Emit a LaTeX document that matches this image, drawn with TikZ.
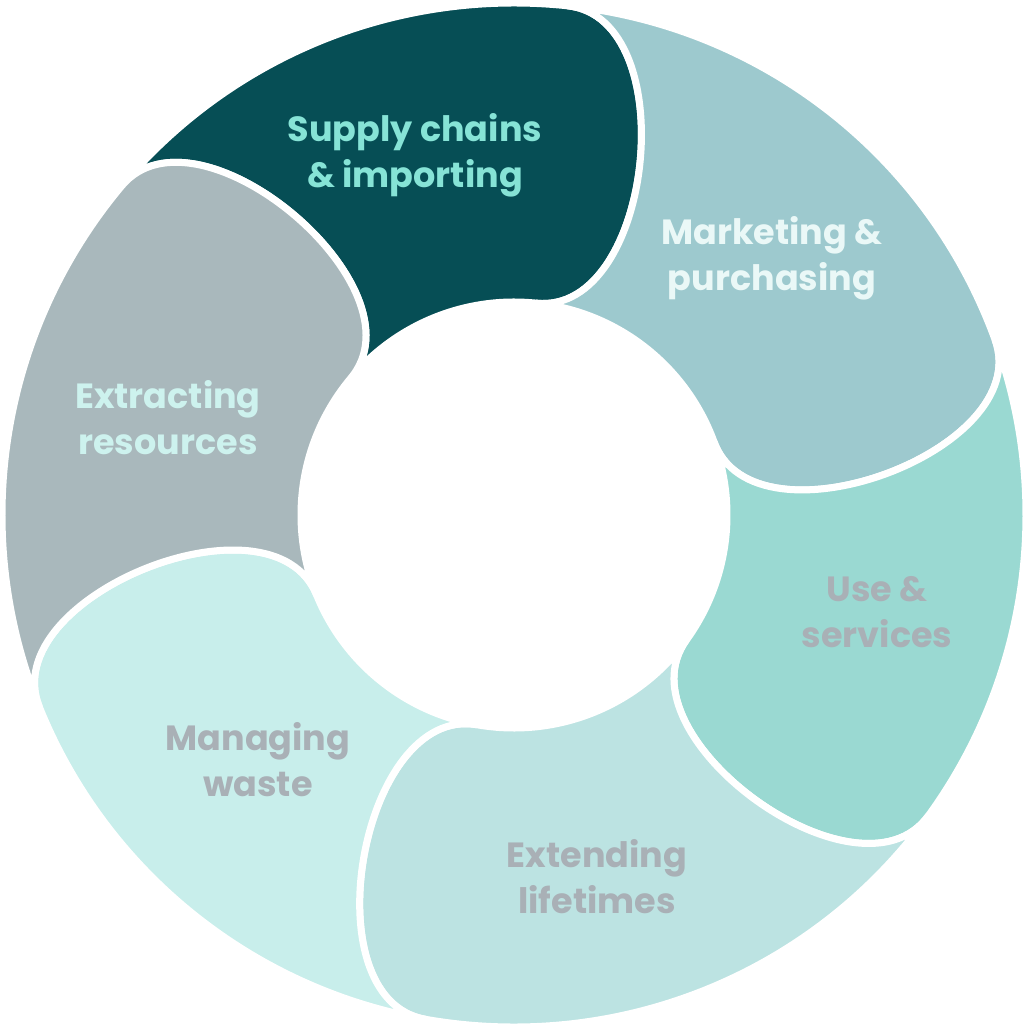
\documentclass[tikz,border=0pt]{standalone}
\usepackage{fontspec}
\setmainfont{Poppins}
\usepackage{xcolor}
\definecolor{darkteal}{HTML}{064E55}
\definecolor{paleblue}{HTML}{9DC9CE}
\definecolor{midteal}{HTML}{9AD9D2}
\definecolor{lightteal}{HTML}{BCE3E2}
\definecolor{mint}{HTML}{C8EEEB}
\definecolor{slate}{HTML}{A9B8BC}
\definecolor{aqua}{HTML}{86E3D6}
\definecolor{softwhite}{HTML}{EAF8F7}
\definecolor{greytext}{HTML}{A9B0B6}
\definecolor{palemint}{HTML}{CDF2EE}

% one ring piece from angle #1 to #2, head bulging clockwise
\newcommand{\ringpiece}[3]{%
  \filldraw[piece, fill=#3] (#1:512) arc[start angle=#1, end angle=#2, radius=512]
    .. controls +(#2-90:118) and +(#2-90:118) .. (#2:213)
    arc[start angle=#2, end angle=#1, radius=213]
    .. controls +(#1-90:118) and +(#1-90:118) .. (#1:512) -- cycle;}

\begin{document}
\begin{tikzpicture}[x=1pt,y=1pt]
        % Define styles
        \tikzset{
            piece/.style={draw=white, line width=7pt, line join=round},
            label/.style={align=center, font=\fontsize{35}{46}\selectfont\bfseries}
        }
        \useasboundingbox (-514,-510) rectangle (515,515);

        % Pieces
        \ringpiece{140}{84}{darkteal}
        \ringpiece{84}{20}{paleblue}
        \ringpiece{20}{-36}{midteal}
        \ringpiece{-36}{-100}{lightteal}
        \ringpiece{-100}{-158}{mint}
        \ringpiece{-158}{-220}{slate}

        % Labels
        \node[label, text=aqua] (supply) at (-99,360) {Supply chains\\\& importing};
        \node[label, text=softwhite] (marketing) at (258,257) {Marketing \&\\purchasing};
        \node[label, text=greytext] (use) at (363,-97) {Use \&\\services};
        \node[label, text=greytext] (extending) at (83,-362) {Extending\\lifetimes};
        \node[label, text=greytext] (managing) at (-256,-245) {Managing\\waste};
        \node[label, text=palemint] (extracting) at (-346,97) {Extracting\\resources};
\end{tikzpicture}
\end{document}
